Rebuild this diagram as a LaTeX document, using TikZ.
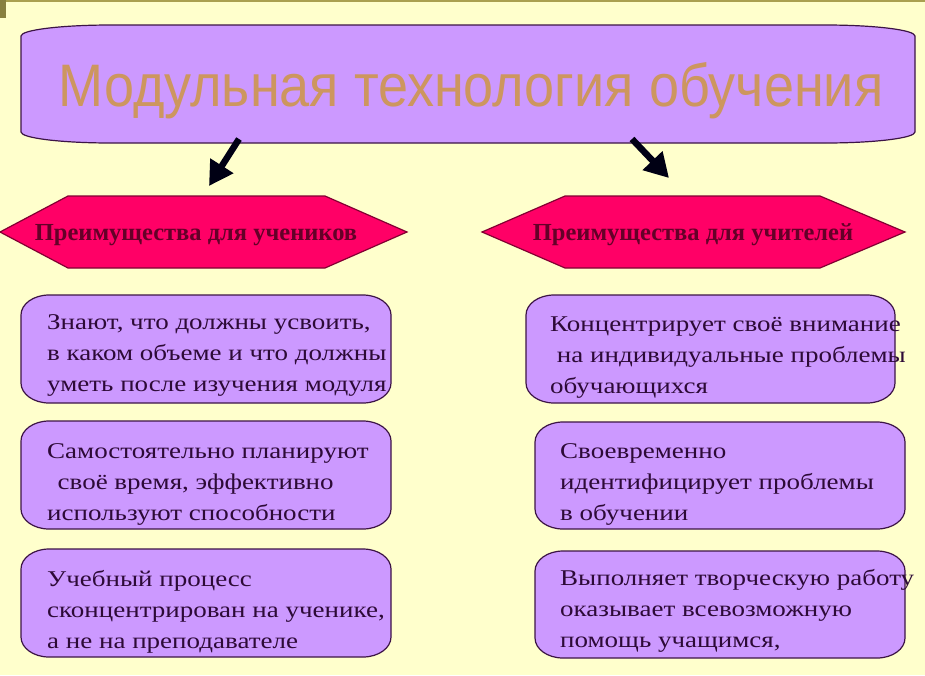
\documentclass[tikz,border=0pt]{standalone}
\usepackage{fontspec}
\setmainfont{Liberation Serif}
\newfontfamily\titlefont{Liberation Sans}
\newfontfamily\boxfont[FakeStretch=1.2]{Liberation Serif}
\newfontfamily\hexfont{Liberation Serif}
\usetikzlibrary{arrows.meta,fit}
\definecolor{bg}{RGB}{255,255,204}
\definecolor{lav}{RGB}{204,153,255}
\definecolor{boxline}{RGB}{60,20,70}
\definecolor{titletxt}{RGB}{205,150,95}
\definecolor{hexfill}{RGB}{255,0,102}
\definecolor{hexline}{RGB}{130,0,50}
\definecolor{hextxt}{RGB}{100,0,40}
\definecolor{txt}{RGB}{45,10,55}
\definecolor{olive}{RGB}{170,160,80}
\tikzset{
  frame/.style={inner sep=0pt, outer sep=0pt},
  ebox/.style={draw=boxline, fill=lav, line width=1.2pt},
  hexbox/.style={draw=hexline, fill=hexfill, line width=1.2pt},
  boxtext/.style={anchor=base west, align=left, text=txt, inner sep=0pt,
    font=\boxfont\fontsize{22.5}{31}\selectfont},
  hextext/.style={anchor=base, text=hextxt, inner sep=0pt,
    font=\hexfont\bfseries\fontsize{24.5}{28}\selectfont},
  bigarrow/.style={line width=6.5pt, -{Triangle[length=24pt,width=26pt]}, draw=black!92!blue}
}
% draw rounded box with elliptical corners around a node
\newcommand\ellbox[3]{% node name, x radius, y radius
  \draw[ebox] ([xshift=#2]#1.north west) -- ([xshift=-#2]#1.north east)
    arc[start angle=90,end angle=0,x radius=#2,y radius=#3]
    -- ([yshift=#3]#1.south east)
    arc[start angle=0,end angle=-90,x radius=#2,y radius=#3]
    -- ([xshift=#2]#1.south west)
    arc[start angle=270,end angle=180,x radius=#2,y radius=#3]
    -- ([yshift=-#3]#1.north west)
    arc[start angle=180,end angle=90,x radius=#2,y radius=#3] -- cycle;}
\begin{document}
\begin{tikzpicture}[x=1pt,y=-1pt]
\fill[bg] (0,0) rectangle (925,675);
\useasboundingbox (0,0) rectangle (925,675);
\fill[olive] (0,0) rectangle (925,2);
\fill[olive!80!black] (0,0) rectangle (6,18);

% title
\node[frame, fit={(21,25)(915,143)}] (title) {};
\ellbox{title}{90pt}{11pt}
\node[frame, text=titletxt] (ttext) at (471,91)
  {\scalebox{0.9}[1]{\titlefont\fontsize{60}{66}\selectfont Модульная технология обучения}};

% hexagons
\node[frame, minimum width=407pt, minimum height=72pt] (hexL) at (203.5,232) {};
\draw[hexbox] (hexL.west) -- ++(68,-36) -- ++(257,0) -- (hexL.east) -- ++(-82,36) -- ++(-257,0) -- cycle;
\node[hextext] (hexLt) at (196,240) {Преимущества для учеников};

\node[frame, minimum width=423pt, minimum height=72pt] (hexR) at (693.5,232) {};
\draw[hexbox] (hexR.west) -- ++(83,-36) -- ++(255,0) -- (hexR.east) -- ++(-85,36) -- ++(-255,0) -- cycle;
\node[hextext] (hexRt) at (693,240) {Преимущества для учителей};

% arrows
\coordinate (a1s) at (239,139);
\coordinate (a1e) at (209,186);
\coordinate (a2s) at (632,139);
\coordinate (a2e) at (669,178);
\draw[bigarrow] (a1s) -- (a1e);
\draw[bigarrow] (a2s) -- (a2e);

% left boxes
\node[frame, fit={(21,295)(391,403)}] (L1) {};
\node[frame, fit={(21,421)(391,529)}] (L2) {};
\node[frame, fit={(21,549)(391,657)}] (L3) {};
\ellbox{L1}{28pt}{20pt}
\ellbox{L2}{28pt}{20pt}
\ellbox{L3}{28pt}{20pt}
\node[boxtext] (L1t) at (47,391) {Знают, что должны усвоить,\\ в каком объеме и что должны\\уметь после изучения модуля};
\node[boxtext] (L2t) at (47,520) {Самостоятельно планируют\\\ \,своё время, эффективно\\используют способности};
\node[boxtext] (L3t) at (47,648) {Учебный процесс\\сконцентрирован на ученике,\\а не на преподавателе};

% right boxes
\node[frame, fit={(526,295)(895,403)}] (R1) {};
\node[frame, fit={(535,422)(905,529)}] (R2) {};
\node[frame, fit={(535,551)(905,658)}] (R3) {};
\ellbox{R1}{28pt}{20pt}
\ellbox{R2}{28pt}{20pt}
\ellbox{R3}{28pt}{20pt}
\node[boxtext] (R1t) at (550,393) {Концентрирует своё внимание\\\ на индивидуальные проблемы\\обучающихся};
\node[boxtext] (R2t) at (560,520) {Своевременно\\идентифицирует проблемы\\в обучении};
\node[boxtext] (R3t) at (560,647) {Выполняет творческую работу\\оказывает всевозможную\\помощь учащимся,};
\end{tikzpicture}
\end{document}
